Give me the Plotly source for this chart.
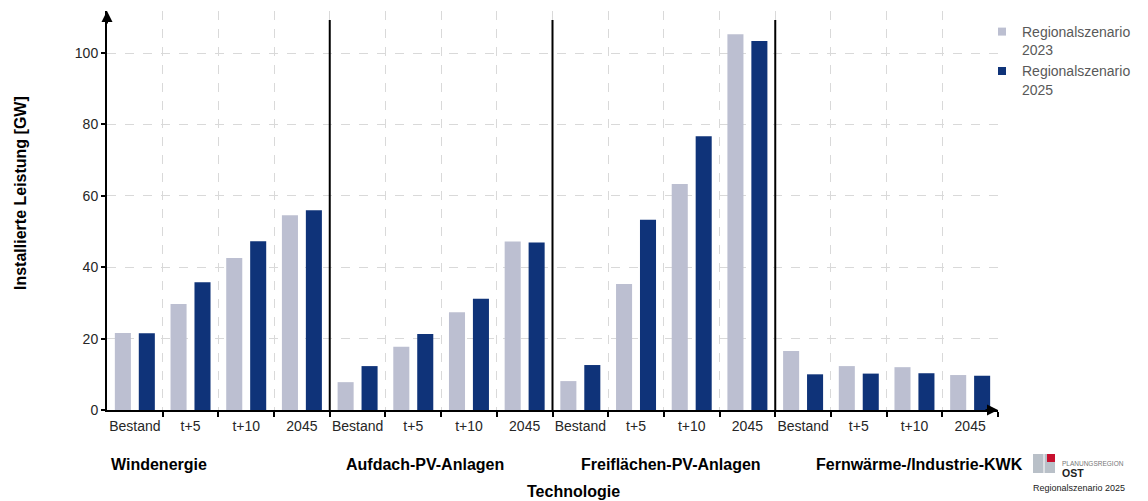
import plotly.graph_objects as go

# data
categories = ["Bestand", "t+5", "t+10", "2045"]
technologies = ["Windenergie", "Aufdach-PV-Anlagen", "Freiflächen-PV-Anlagen",
                "Fernwärme-/Industrie-KWK"]
szenario_2023 = [21.6, 29.7, 42.6, 54.6,
                 7.8, 17.7, 27.4, 47.2,
                 8.1, 35.3, 63.3, 105.3,
                 16.5, 12.3, 12.0, 9.8]
szenario_2025 = [21.5, 35.8, 47.3, 56.0,
                 12.3, 21.3, 31.2, 46.9,
                 12.6, 53.3, 76.7, 103.4,
                 10.0, 10.2, 10.3, 9.6]
series_names = ["Regionalszenario<br>2023", "Regionalszenario<br>2025"]
colours = ["#BCBFD1", "#0F3379"]

FONT = "Arial, Liberation Sans, sans-serif"
W, H = 1148, 501
L, R, T, B = 107, 150, 11, 91
YMAX = 111.8

n_groups = len(technologies)
n_cat = len(categories)
x_pos = list(range(n_groups * n_cat))
tick_text = categories * n_groups


def px(x):
    """pixel x -> paper x"""
    return (x - L) / (W - L - R)


def py(y):
    """pixel y -> paper y"""
    return (H - B - y) / (H - T - B)


fig = go.Figure()
for vals, name, col in zip([szenario_2023, szenario_2025], series_names, colours):
    fig.add_trace(go.Bar(x=x_pos, y=vals, name=name, marker_color=col,
                         marker_line_width=0, showlegend=False, legendgroup=name))
    # small square legend symbol like the original
    fig.add_trace(go.Scatter(x=[None], y=[None], mode="markers", name=name,
                             legendgroup=name,
                             marker=dict(symbol="square", size=8, color=col)))

shapes = []
# black separators between technologies
for g in range(1, n_groups):
    shapes.append(dict(type="line", xref="x", yref="y",
                       x0=g * n_cat - 0.5, x1=g * n_cat - 0.5, y0=0, y1=109.3,
                       line=dict(color="black", width=2)))

annotations = []
# axis arrows
annotations.append(dict(xref="x", yref="y", x=len(x_pos) - 0.5, y=0, ax=-14, ay=0,
                        text="", showarrow=True, arrowhead=2, arrowsize=1.1,
                        arrowwidth=2, arrowcolor="black"))
annotations.append(dict(xref="x", yref="y", x=-0.5, y=YMAX, ax=0, ay=14,
                        text="", showarrow=True, arrowhead=2, arrowsize=1.1,
                        arrowwidth=2, arrowcolor="black"))
# technology labels
for i, tech in enumerate(technologies):
    annotations.append(dict(xref="x", yref="paper", x=i * 4.22 - 0.47, y=py(464),
                            text=f"<b>{tech}</b>", showarrow=False,
                            xanchor="left", yanchor="middle",
                            font=dict(family=FONT, size=16, color="black")))
annotations.append(dict(xref="paper", yref="paper", x=px(573), y=py(492),
                        text="<b>Technologie</b>", showarrow=False,
                        xanchor="center", yanchor="middle",
                        font=dict(family=FONT, size=16, color="black")))
annotations.append(dict(xref="paper", yref="paper", x=px(20), y=py(193),
                        text="<b>Installierte Leistung [GW]</b>", showarrow=False,
                        textangle=-90, xanchor="center", yanchor="middle",
                        font=dict(family=FONT, size=16, color="black")))

# small logo bottom right
shapes.append(dict(type="rect", xref="paper", yref="paper",
                   x0=px(1033), x1=px(1055), y0=py(473), y1=py(454),
                   fillcolor="#B9C0C8", line_width=0))
shapes.append(dict(type="rect", xref="paper", yref="paper",
                   x0=px(1047), x1=px(1055), y0=py(462), y1=py(454),
                   fillcolor="#C8102E", line_width=0))
shapes.append(dict(type="line", xref="paper", yref="paper",
                   x0=px(1044), x1=px(1044), y0=py(473), y1=py(454),
                   line=dict(color="white", width=1)))
annotations.append(dict(xref="paper", yref="paper", x=px(1060), y=py(463),
                        text="PLANUNGSREGION", showarrow=False, xanchor="left",
                        yanchor="middle", font=dict(family=FONT, size=6.5, color="#777")))
annotations.append(dict(xref="paper", yref="paper", x=px(1060), y=py(473),
                        text="<b>OST</b>", showarrow=False, xanchor="left",
                        yanchor="middle", font=dict(family=FONT, size=10.5, color="#222")))
annotations.append(dict(xref="paper", yref="paper", x=px(1031), y=py(488),
                        text="Regionalszenario 2025", showarrow=False, xanchor="left",
                        yanchor="middle", font=dict(family=FONT, size=9, color="#222")))

fig.update_layout(
    width=W, height=H,
    margin=dict(l=L, r=R, t=T, b=B),
    plot_bgcolor="white", paper_bgcolor="white",
    font=dict(family=FONT, size=14, color="#262626"),
    barmode="group", bargap=0.14, bargroupgap=0.33,
    xaxis=dict(range=[-0.5, len(x_pos) - 0.5], tickmode="array",
               tickvals=x_pos, ticktext=tick_text, ticks="", showgrid=False,
               showline=True, linecolor="black", linewidth=2, zeroline=False,
               tickfont=dict(size=14, color="#262626"), ticklabelstandoff=2,
               minor=dict(tickmode="array",
                          tickvals=[v - 0.5 for v in x_pos[1:]] + [len(x_pos) - 0.5],
                          ticks="outside", ticklen=5, tickwidth=2, tickcolor="black",
                          showgrid=True, gridcolor="#D9D9D9", griddash="dash",
                          gridwidth=1)),
    yaxis=dict(range=[0, YMAX], tickvals=[0, 20, 40, 60, 80, 100],
               ticks="outside", ticklen=4, tickwidth=2, tickcolor="black",
               showgrid=True, gridcolor="#D9D9D9", griddash="dash", gridwidth=1,
               showline=True, linecolor="black", linewidth=2, zeroline=False,
               tickfont=dict(size=14, color="#262626")),
    # legend kept narrow enough that it does not push the right margin
    legend=dict(x=px(982), y=py(16), xanchor="left", yanchor="top",
                font=dict(family=FONT, size=14, color="#595959"),
                valign="top", tracegroupgap=0, bgcolor="rgba(0,0,0,0)"),
    shapes=shapes,
    annotations=annotations,
)

# remove the default page margin so the figure sits at the top-left corner
fig.write_html("out.html", config={"displayModeBar": False},
               post_script="document.body.style.margin='0';")
